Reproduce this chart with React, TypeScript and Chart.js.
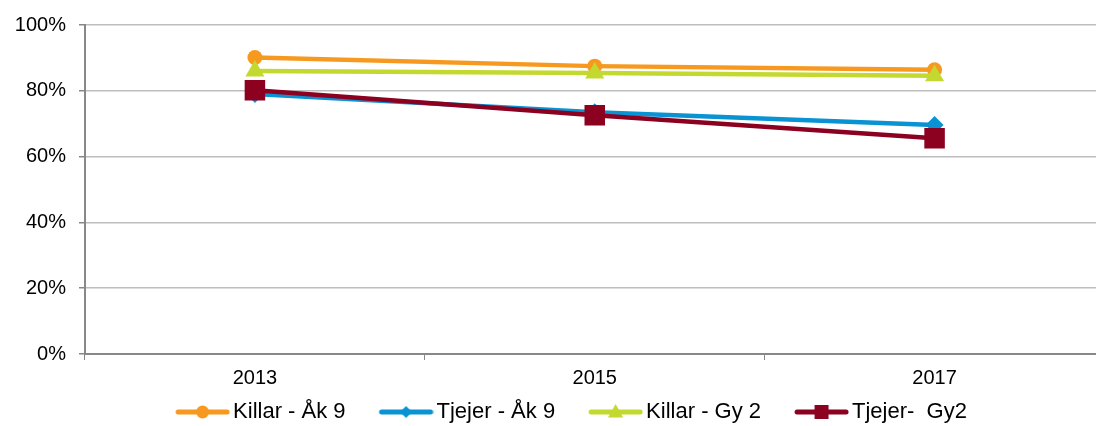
import React, { useEffect, useRef } from "react";
import { Chart, registerables } from "chart.js";

Chart.register(...registerables);

const categories = ["2013", "2015", "2017"];
const seriesNames = ["Killar - Åk 9", "Tjejer - Åk 9", "Killar - Gy 2", "Tjejer-  Gy2"];
const killarAk9 = [90.1, 87.5, 86.4];
const tjejerAk9 = [79.0, 73.5, 69.6];
const killarGy2 = [86.0, 85.4, 84.6];
const tjejerGy2 = [80.2, 72.6, 65.6];
const yTicks = [0, 20, 40, 60, 80, 100];

const colors = ["#F7991F", "#0A93D3", "#C3D92F", "#8C0020"];
const styles = ["circle", "rectRot", "triangle", "rect"];
const radii = [7.5, 9, 11, 14.5];
const legendRadii = [6.5, 6, 8, 10];

function makeLegendImage(color: string, style: string, r: number) {
  const c = document.createElement("canvas");
  const w = 91;
  const h = 22;
  c.width = w;
  c.height = h;
  const ctx = c.getContext("2d")!;
  ctx.strokeStyle = color;
  ctx.lineWidth = 5;
  ctx.lineCap = "round";
  ctx.beginPath();
  ctx.moveTo(39, h / 2);
  ctx.lineTo(88, h / 2);
  ctx.stroke();
  ctx.fillStyle = color;
  const cx = 63.5;
  const cy = h / 2;
  ctx.beginPath();
  if (style === "circle") {
    ctx.arc(cx, cy, r, 0, Math.PI * 2);
  } else if (style === "rectRot") {
    ctx.moveTo(cx, cy - r);
    ctx.lineTo(cx + r, cy);
    ctx.lineTo(cx, cy + r);
    ctx.lineTo(cx - r, cy);
    ctx.closePath();
  } else if (style === "triangle") {
    ctx.moveTo(cx, cy - r);
    ctx.lineTo(cx + r * 0.95, cy + r * 0.7);
    ctx.lineTo(cx - r * 0.95, cy + r * 0.7);
    ctx.closePath();
  } else {
    ctx.rect(cx - r * 0.7, cy - r * 0.7, r * 1.4, r * 1.4);
  }
  ctx.fill();
  return c;
}

export default function App() {
  const ref = useRef<HTMLCanvasElement>(null);
  useEffect(() => {
    const canvas = ref.current!;
    const values = [killarAk9, tjejerAk9, killarGy2, tjejerGy2];
    const images = colors.map((c, i) => makeLegendImage(c, styles[i], legendRadii[i]));
    const chart = new Chart(canvas, {
      type: "line",
      data: {
        labels: categories,
        datasets: values.map((v, i) => ({
          label: seriesNames[i],
          data: v,
          borderColor: colors[i],
          backgroundColor: colors[i],
          borderWidth: 4.5,
          pointStyle: styles[i] as any,
          pointRadius: radii[i],
          pointBackgroundColor: colors[i],
          pointBorderWidth: 0,
          tension: 0,
          order: 4 - i,
        })),
      },
      options: {
        responsive: false,
        animation: false,
        layout: { padding: { top: 24, right: 5, left: 0, bottom: 0 } },
        plugins: {
          tooltip: { enabled: false },
          legend: {
            position: "bottom",
            labels: {
              font: { family: "Liberation Sans, Arial, sans-serif", size: 22 },
              color: "#000",
              usePointStyle: true,
              pointStyleWidth: 75,
              padding: 5,
              generateLabels: () =>
                seriesNames.map((n, i) => ({
                  text: n,
                  pointStyle: images[i] as any,
                  fillStyle: colors[i],
                  strokeStyle: colors[i],
                  lineWidth: 0,
                  hidden: false,
                  datasetIndex: i,
                })),
            },
          },
        },
        scales: {
          x: {
            offset: true,
            grid: {
              display: true,
              offset: true,
              drawOnChartArea: false,
              drawTicks: true,
              tickLength: 6,
              color: "#888",
            },
            border: { color: "#888", width: 2 },
            ticks: {
              font: { family: "Liberation Sans, Arial, sans-serif", size: 20 },
              color: "#000",
              padding: 6,
            },
          },
          y: {
            min: 0,
            max: 100,
            afterFit: (s: any) => {
              s.width = 85;
            },
            afterBuildTicks: (s: any) => {
              s.ticks = yTicks.map((v) => ({ value: v }));
            },
            grid: { color: "#BEBEBE", lineWidth: 1.5, tickLength: 6, tickColor: "#888" },
            border: { color: "#888", width: 2 },
            ticks: {
              font: { family: "Liberation Sans, Arial, sans-serif", size: 20 },
              color: "#000",
              padding: 13,
              callback: (v: any) => v + "%",
            },
          },
        },
      },
    });
    return () => chart.destroy();
  }, []);
  return (
    <div style={{ position: "fixed", left: 0, top: 0, width: 1096, height: 426, overflow: "hidden", background: "#fff" }}>
      <canvas ref={ref} width={1119} height={433} style={{ display: "block" }} />
    </div>
  );
}
